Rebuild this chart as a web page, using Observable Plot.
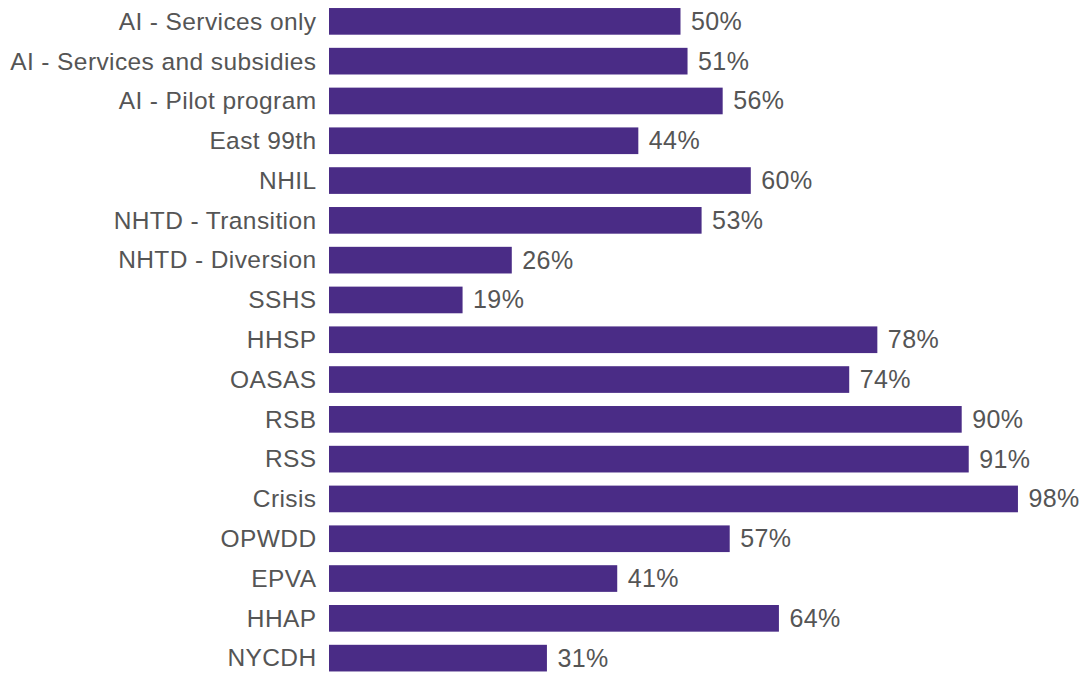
<!DOCTYPE html>
<html>
<head>
<meta charset="utf-8">
<script src="https://cdn.jsdelivr.net/npm/d3@7"></script>
<script src="https://cdn.jsdelivr.net/npm/@observablehq/plot@0.6"></script>
<style>
  html, body { margin: 0; padding: 0; background: #fff; overflow: hidden; }
  svg text { letter-spacing: 0.4px; }
</style>
</head>
<body>
<div id="chart"></div>
<script>
const categories = [
  "AI - Services only", "AI - Services and subsidies", "AI - Pilot program",
  "East 99th", "NHIL", "NHTD - Transition", "NHTD - Diversion", "SSHS",
  "HHSP", "OASAS", "RSB", "RSS", "Crisis", "OPWDD", "EPVA", "HHAP", "NYCDH"
];
const values = [50, 51, 56, 44, 60, 53, 26, 19, 78, 74, 90, 91, 98, 57, 41, 64, 31];

const data = categories.map((c, i) => ({ category: c, value: values[i] }));

const chart = Plot.plot({
  width: 1086,
  height: 675,
  marginTop: 0,
  marginBottom: 0,
  marginLeft: 329,
  marginRight: 54,
  style: { fontFamily: "'Liberation Sans', Arial, sans-serif", fontSize: "24px", color: "#555", background: "#fff" },
  x: { domain: [0, 100], axis: null },
  y: { domain: categories, range: [-5.1, 684.6], round: false, paddingInner: 0.33, paddingOuter: 0.33, label: null },
  marks: [
    Plot.barX(data, { y: "category", x: "value", fill: "#4a2c86" }),
    Plot.axisY({ tickSize: 0, tickPadding: 13, fontSize: 24.5, label: null, fill: "#555" }),
    Plot.text(data, { y: "category", x: "value", text: d => d.value + "%", dx: 10, textAnchor: "start", fontSize: 25, fill: "#555" })
  ]
});
document.getElementById("chart").appendChild(chart);
</script>
</body>
</html>
